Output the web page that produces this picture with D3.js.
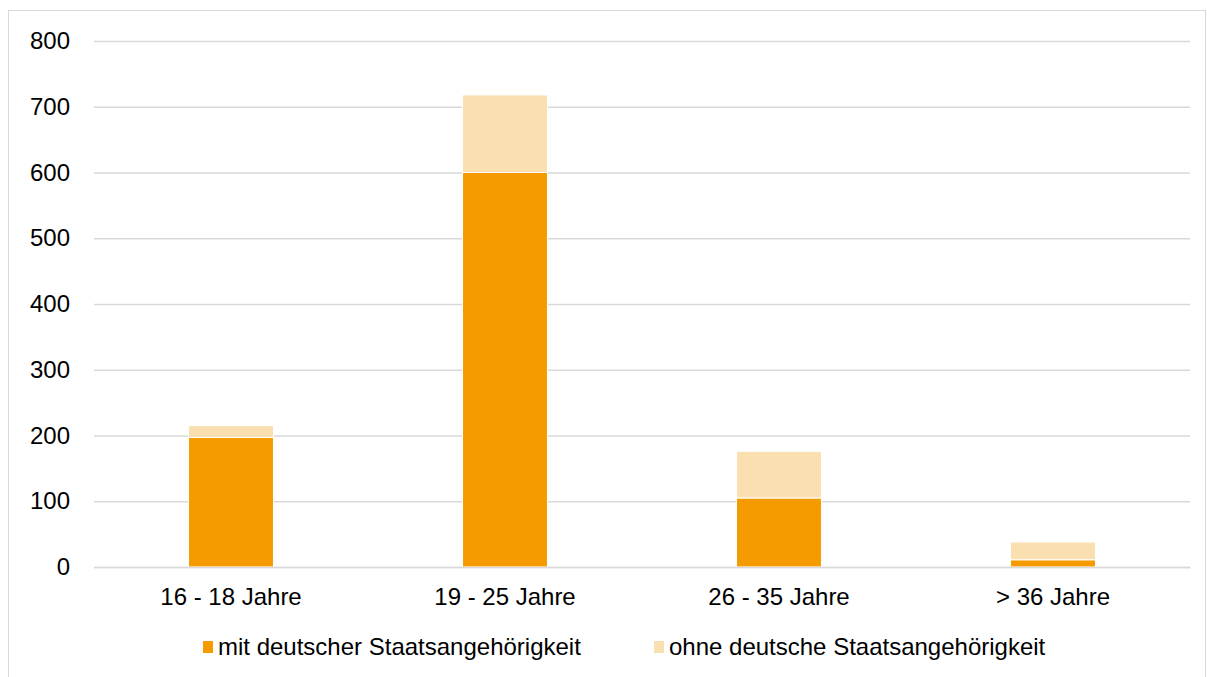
<!DOCTYPE html>
<html><head><meta charset="utf-8">
<script src="https://cdn.jsdelivr.net/npm/d3@7"></script>
<style>body{margin:0;background:#fff;font-family:"Liberation Sans",Arial,sans-serif;}</style>
</head><body>
<svg id="c" width="1207" height="677"></svg>
<script>
const categories = ["16 - 18 Jahre", "19 - 25 Jahre", "26 - 35 Jahre", "> 36 Jahre"];
const seriesNames = ["mit deutscher Staatsangehörigkeit", "ohne deutsche Staatsangehörigkeit"];
const mitValues = [197, 600, 105, 11];
const ohneValues = [18, 118, 71, 27];
const yTicks = [0, 100, 200, 300, 400, 500, 600, 700, 800];
const colors = ["#F59B00", "#FADFB0"];

const svg = d3.select("#c");
svg.append("rect").attr("x", 8.5).attr("y", 10.5).attr("width", 1197).attr("height", 670)
  .attr("fill", "#fff").attr("stroke", "#d9d9d9");

const x = d3.scaleBand().domain(categories).range([94, 1190]).paddingInner(0.69).paddingOuter(0.345);
const y = d3.scaleLinear().domain([0, 800]).range([567, 41]);

const yAxis = svg.append("g").attr("transform", "translate(94,0)")
  .call(d3.axisLeft(y).tickValues(yTicks).tickSize(-1096).tickPadding(24));
yAxis.select(".domain").remove();
yAxis.selectAll("line").attr("stroke", "#d9d9d9").attr("stroke-width", 1.3);
yAxis.selectAll("text").attr("font-size", 24).attr("fill", "#000").attr("font-family", "Liberation Sans, Arial, sans-serif");

const data = categories.map((c, i) => ({cat: c, mit: mitValues[i], ohne: ohneValues[i]}));
const stack = d3.stack().keys(["mit", "ohne"])(data);

svg.append("g").selectAll("g").data(stack).join("g")
  .attr("fill", (d, i) => colors[i])
  .selectAll("rect").data(d => d).join("rect")
  .attr("x", d => x(d.data.cat))
  .attr("width", x.bandwidth())
  .attr("y", d => y(d[1]))
  .attr("height", d => y(d[0]) - y(d[1]))
  .attr("stroke", "#fff").attr("stroke-width", 1);

const xAxis = svg.append("g").attr("transform", "translate(0,567)")
  .call(d3.axisBottom(x).tickSize(0).tickPadding(21));
xAxis.select(".domain").attr("stroke", "#d9d9d9").attr("stroke-width", 1.3);
xAxis.selectAll("text").attr("font-size", 24).attr("fill", "#000").attr("font-family", "Liberation Sans, Arial, sans-serif");

const legendX = [203, 654];
const lg = svg.append("g").selectAll("g").data(seriesNames).join("g")
  .attr("transform", (d, i) => `translate(${legendX[i]},647)`);
lg.append("rect").attr("x", 0).attr("y", -6).attr("width", 10).attr("height", 12).attr("fill", (d, i) => colors[i]);
lg.append("text").attr("x", 15).attr("y", 0).attr("dy", "0.35em").attr("font-size", 24).attr("fill", "#000")
  .text(d => d);
</script>
</body></html>
